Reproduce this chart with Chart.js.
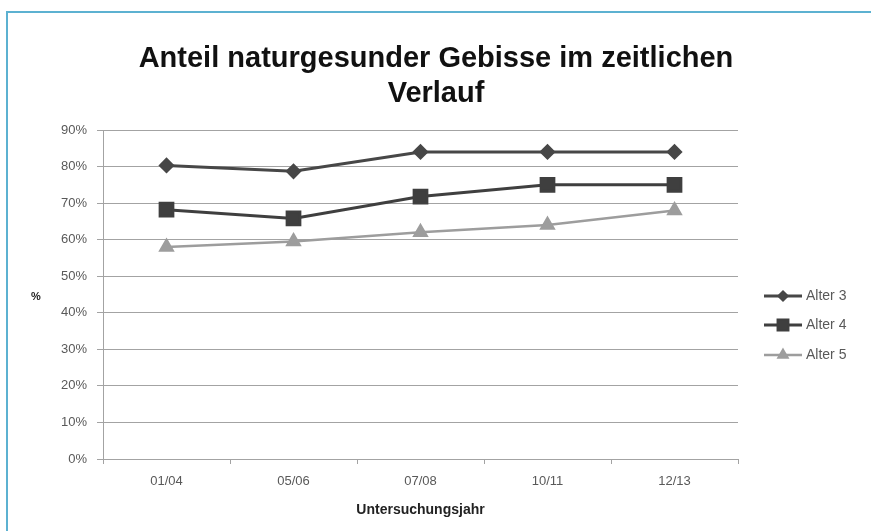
<!DOCTYPE html>
<html lang="de">
<head>
<meta charset="utf-8">
<title>Anteil naturgesunder Gebisse</title>
<script src="https://cdn.jsdelivr.net/npm/chart.js@4.4.1/dist/chart.umd.min.js"></script>
<style>
  html, body { margin: 0; padding: 0; background: #fff; }
  #wrap { position: relative; width: 871px; height: 531px; }
  #rahmen {
    position: absolute; left: 6px; top: 11px; right: 0; bottom: 0;
    border-top: 2px solid #5cb1d1; border-left: 2px solid #5cb1d1;
    pointer-events: none;
  }
  canvas { position: absolute; left: 0; top: 0; }
</style>
</head>
<body>
<div id="wrap">
  <canvas id="grafico" width="871" height="531"></canvas>
  <div id="rahmen"></div>
</div>
<script>
const jahre = ["01/04", "05/06", "07/08", "10/11", "12/13"];
const alter3 = [80.3, 78.7, 84, 84, 84];
const alter4 = [68.2, 65.8, 71.8, 75, 75];
const alter5 = [58, 59.5, 62, 64, 68];
const serien = ["Alter 3", "Alter 4", "Alter 5"];
const yTicks = [0, 10, 20, 30, 40, 50, 60, 70, 80, 90];
const titel = ["Anteil naturgesunder Gebisse im zeitlichen", "Verlauf"];

const canvas = document.getElementById("grafico");
const schrift = "'Liberation Sans', Arial, sans-serif";
const grau = "#a3a3a3";

// Titel über die ganze Breite, Legende rechts, "%" links
const beschriftung = {
  id: "beschriftung",
  afterDraw(chart) {
    const ctx = chart.ctx;

    ctx.save();
    ctx.fillStyle = "#111";
    ctx.font = "bold 29px " + schrift;
    ctx.textAlign = "center";
    ctx.textBaseline = "alphabetic";
    ctx.fillText(titel[0], 436, 67);
    ctx.fillText(titel[1], 436, 102);
    ctx.restore();

    const ys = [296, 325, 355];
    chart.data.datasets.forEach((ds, i) => {
      const y = ys[i];
      ctx.save();
      ctx.strokeStyle = ds.borderColor;
      ctx.lineWidth = ds.borderWidth;
      ctx.beginPath();
      ctx.moveTo(764, y);
      ctx.lineTo(802, y);
      ctx.stroke();
      Chart.helpers.drawPoint(ctx, {
        pointStyle: ds.pointStyle,
        radius: ds.legendRadius,
        borderWidth: 1
      }, 783, y);
      ctx.fillStyle = ds.pointBackgroundColor;
      ctx.fill();
      ctx.fillStyle = "#595959";
      ctx.font = "14px " + schrift;
      ctx.textBaseline = "middle";
      ctx.textAlign = "left";
      ctx.fillText(ds.label, 806, y);
      ctx.restore();
    });

    ctx.save();
    ctx.fillStyle = "#222";
    ctx.font = "bold 11px " + schrift;
    ctx.textAlign = "center";
    ctx.textBaseline = "middle";
    ctx.fillText("%", 36, 297);
    ctx.restore();
  }
};

new Chart(canvas, {
  type: "line",
  data: {
    labels: jahre,
    datasets: [
      {
        label: serien[0], data: alter3,
        borderColor: "#474747", backgroundColor: "#474747",
        pointBackgroundColor: "#474747", pointBorderColor: "#474747",
        borderWidth: 3, pointStyle: "rectRot", pointRadius: 6, legendRadius: 4
      },
      {
        label: serien[1], data: alter4,
        borderColor: "#3f3f3f", backgroundColor: "#3f3f3f",
        pointBackgroundColor: "#3f3f3f", pointBorderColor: "#3f3f3f",
        borderWidth: 3, pointStyle: "rect", pointRadius: 9, legendRadius: 7
      },
      {
        label: serien[2], data: alter5,
        borderColor: "#9d9d9d", backgroundColor: "#9d9d9d",
        pointBackgroundColor: "#9d9d9d", pointBorderColor: "#9d9d9d",
        borderWidth: 2.5, pointStyle: "triangle", pointRadius: 7, legendRadius: 5
      }
    ]
  },
  options: {
    responsive: false,
    animation: false,
    layout: { padding: { left: 0, right: 133, top: 130, bottom: 0 } },
    elements: { line: { tension: 0 }, point: { borderWidth: 1, hoverRadius: 8 } },
    plugins: {
      legend: { display: false },
      tooltip: { enabled: false },
      title: { display: false }
    },
    scales: {
      x: {
        offset: true,
        grid: { offset: true, drawOnChartArea: false, drawTicks: true, tickLength: 5, color: grau },
        border: { display: true, color: grau, width: 1 },
        ticks: { color: "#595959", font: { family: schrift, size: 13 }, padding: 10, maxRotation: 0 },
        title: {
          display: true, text: "Untersuchungsjahr", color: "#222",
          font: { family: schrift, size: 14, weight: "bold" },
          padding: { top: 8, bottom: 12 }
        },
        afterFit(scale) { scale.height = 72; }
      },
      y: {
        min: 0, max: 90,
        afterBuildTicks(scale) { scale.ticks = yTicks.map(v => ({ value: v })); },
        grid: { color: grau, lineWidth: 1, drawTicks: true, tickLength: 6 },
        border: { display: true, color: grau, width: 1 },
        ticks: {
          color: "#595959", font: { family: schrift, size: 13 }, padding: 10,
          callback: v => v + "%"
        },
        afterFit(scale) { scale.width = 103; }
      }
    }
  },
  plugins: [beschriftung]
});
</script>
</body>
</html>
